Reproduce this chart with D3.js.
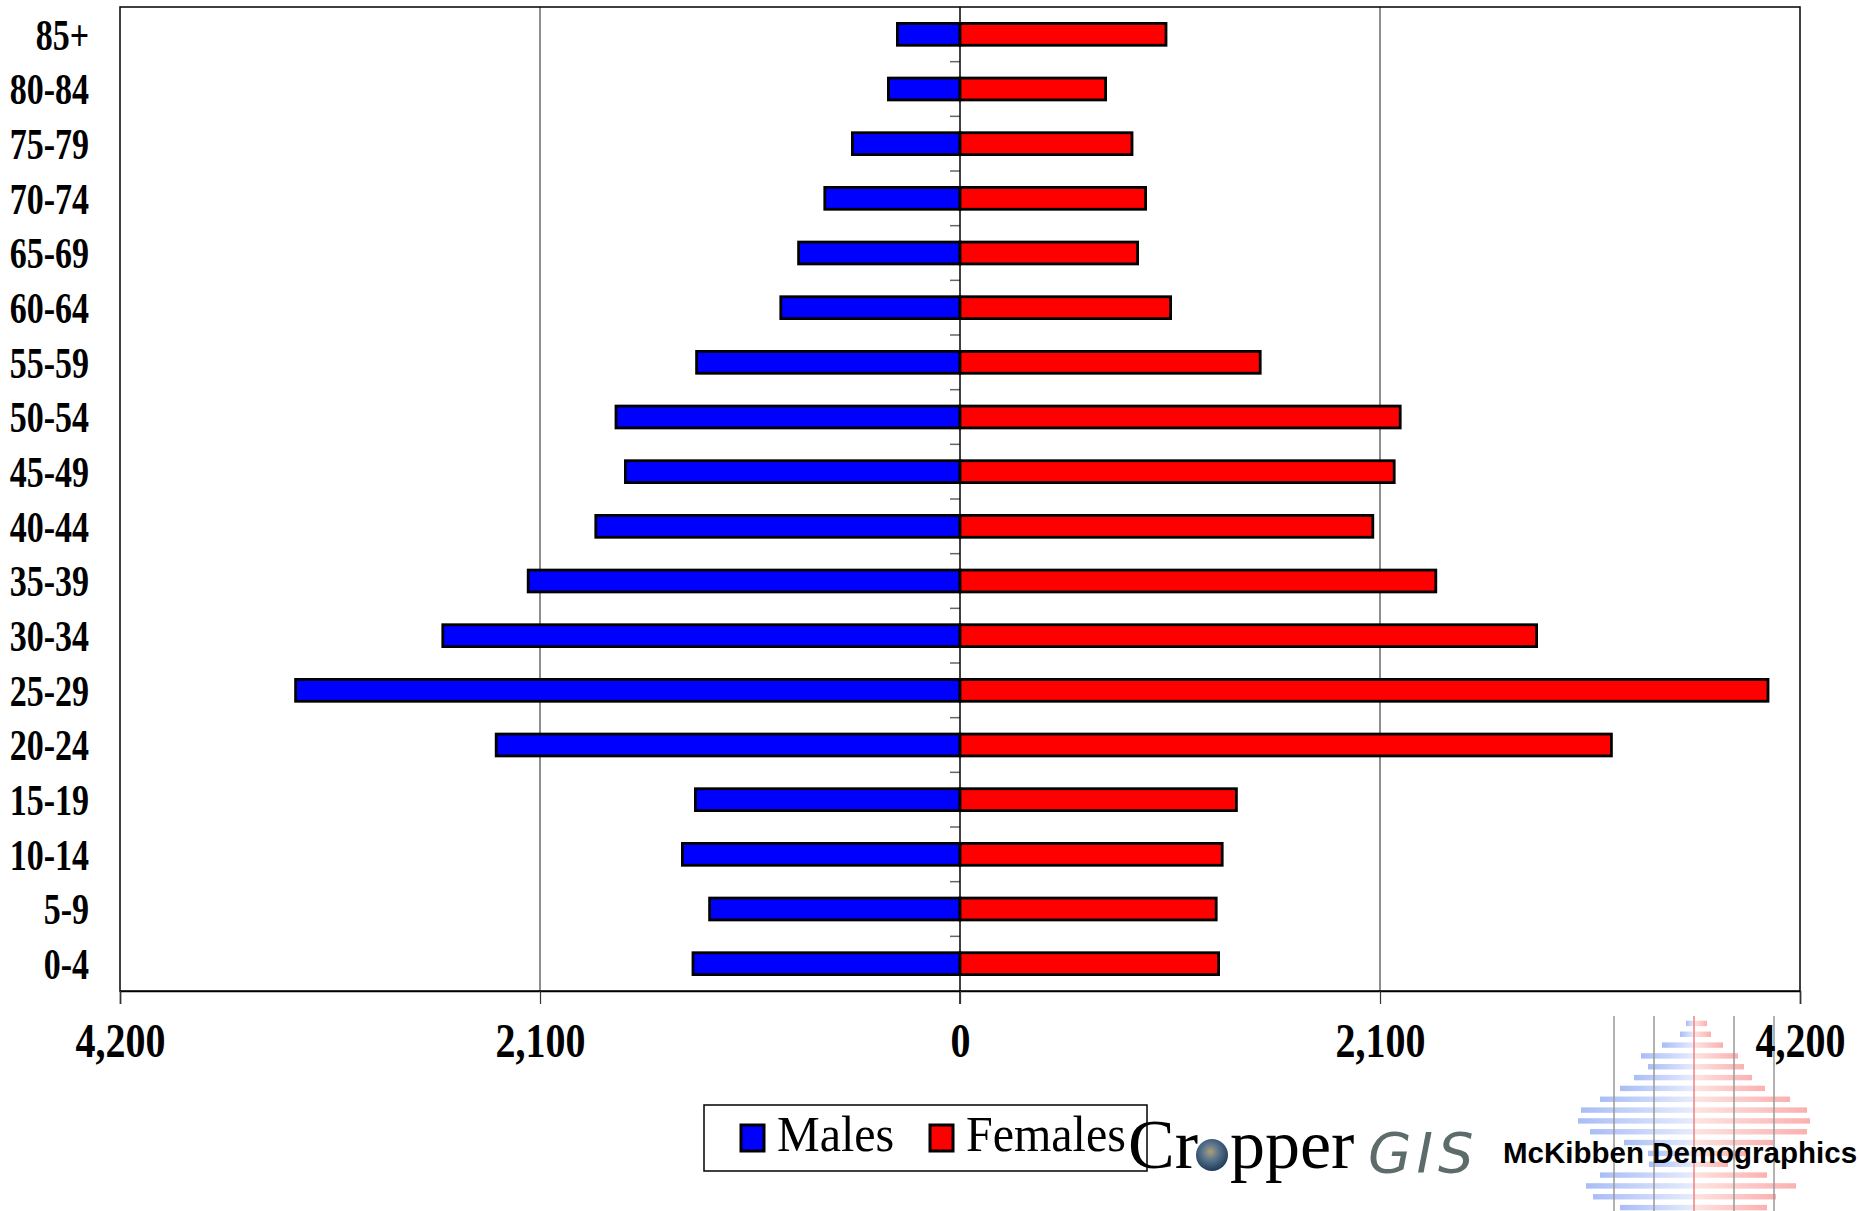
<!DOCTYPE html>
<html>
<head>
<meta charset="utf-8">
<script src="https://cdn.jsdelivr.net/npm/d3@7"></script>
<style>
  body { margin: 0; background: #fff; }
  svg { display: block; }
</style>
</head>
<body>
<svg id="chart"></svg>
<script>
// age groups, top to bottom as drawn
const ageGroups = ["85+", "80-84", "75-79", "70-74", "65-69", "60-64", "55-59", "50-54", "45-49",
                   "40-44", "35-39", "30-34", "25-29", "20-24", "15-19", "10-14", "5-9", "0-4"];
const males   = [313, 358, 538, 676, 807, 896, 1317, 1720, 1673, 1821, 2159, 2586, 3322, 2319, 1323, 1388, 1252, 1335];
const females = [1030, 728, 860, 928, 888, 1053, 1501, 2201, 2171, 2064, 2379, 2883, 4040, 3257, 1382, 1311, 1281, 1293];
const xTicks = [-4200, -2100, 0, 2100, 4200];
const legendItems = ["Males", "Females"];

// little pyramid in the McKibben logo (arbitrary units)
const logoMale   = [8, 14, 32, 53, 46, 60, 74, 94, 113, 116, 104, 70, 46, 45, 94, 108, 101, 74];
const logoFemale = [13, 17, 29, 44, 50, 58, 71, 96, 113, 116, 113, 79, 53, 34, 73, 102, 82, 73];
const logoGrid = [-80, -40, 40, 80];

const W = 1860, H = 1211;
const pLeft = 120, pRight = 1800, pTop = 7, pBottom = 991;

const svg = d3.select("#chart").attr("width", W).attr("height", H);

// the chart's serif labels are tall and narrow: stretch them vertically
function stretch(sel, sy) {
  sel.each(function() {
    const t = d3.select(this);
    const tx = +t.attr("x") || 0, ty = +t.attr("y") || 0;
    t.attr("x", 0).attr("y", 0).attr("transform", `translate(${tx},${ty}) scale(1,${sy})`);
  });
}

const x = d3.scaleLinear().domain([-4200, 4200]).range([pLeft, pRight]);
const y = d3.scaleBand().domain(ageGroups).range([pTop, pBottom]).paddingInner(0.6).paddingOuter(0.3);
const step = y.step();

// gridlines at +-2100
svg.append("g")
  .selectAll("line")
  .data([-2100, 2100])
  .join("line")
    .attr("x1", d => x(d)).attr("x2", d => x(d))
    .attr("y1", pTop).attr("y2", pBottom)
    .attr("stroke", "#444").attr("stroke-width", 1.2);

// plot frame
svg.append("rect")
  .attr("x", pLeft).attr("y", pTop)
  .attr("width", pRight - pLeft).attr("height", pBottom - pTop)
  .attr("fill", "none").attr("stroke", "#000").attr("stroke-width", 1.5);

// x axis
const xAxis = d3.axisBottom(x)
  .tickValues(xTicks)
  .tickSize(13)
  .tickFormat(d => d3.format(",")(Math.abs(d)));

const gx = svg.append("g")
  .attr("transform", `translate(0,${pBottom})`)
  .call(xAxis);
gx.select(".domain").attr("stroke", "#000").attr("stroke-width", 1.5);
gx.selectAll(".tick line").attr("stroke", "#333").attr("stroke-width", 1.2);
gx.selectAll(".tick text")
  .attr("y", 49).attr("dy", "0.35em")
  .attr("font-family", "'Liberation Serif', serif")
  .attr("font-weight", "bold")
  .attr("font-size", 40)
  .attr("fill", "#000")
  .call(stretch, 1.2);

// small ticks on the zero axis between age groups
const bounds = ageGroups.slice(1).map(g => y(g) - (step - y.bandwidth()) / 2);
svg.append("g")
  .selectAll("line")
  .data(bounds)
  .join("line")
    .attr("x1", x(0) - 10).attr("x2", x(0))
    .attr("y1", d => d).attr("y2", d => d)
    .attr("stroke", "#666").attr("stroke-width", 1.5);

// zero line
svg.append("line")
  .attr("x1", x(0)).attr("x2", x(0))
  .attr("y1", pTop).attr("y2", pBottom + 13)
  .attr("stroke", "#000").attr("stroke-width", 1.5);

// bars
svg.append("g")
  .selectAll("rect")
  .data(males)
  .join("rect")
    .attr("x", d => x(-d))
    .attr("y", (d, i) => y(ageGroups[i]))
    .attr("width", d => x(0) - x(-d))
    .attr("height", y.bandwidth())
    .attr("fill", "#0000ff")
    .attr("stroke", "#000").attr("stroke-width", 2.8);

svg.append("g")
  .selectAll("rect")
  .data(females)
  .join("rect")
    .attr("x", x(0))
    .attr("y", (d, i) => y(ageGroups[i]))
    .attr("width", d => x(d) - x(0))
    .attr("height", y.bandwidth())
    .attr("fill", "#ff0000")
    .attr("stroke", "#000").attr("stroke-width", 2.8);

// age labels
svg.append("g")
  .selectAll("text")
  .data(ageGroups)
  .join("text")
    .attr("x", 89)
    .attr("y", d => y(d) + y.bandwidth() / 2)
    .attr("dy", "0.35em")
    .attr("text-anchor", "end")
    .attr("font-family", "'Liberation Serif', serif")
    .attr("font-weight", "bold")
    .attr("font-size", 34)
    .text(d => d)
    .call(stretch, 1.28);

// McKibben logo pyramid (behind the logo text)
const lx = d3.scaleLinear().domain([-120, 120]).range([1574, 1814]);
const ly = d3.scaleBand().domain(d3.range(logoMale.length)).range([1018, 1213]).paddingInner(0.5).paddingOuter(0.25);

const defs = svg.append("defs");
const gm = defs.append("linearGradient").attr("id", "gm");
gm.append("stop").attr("offset", "0%").attr("stop-color", "#a9bdf7");
gm.append("stop").attr("offset", "100%").attr("stop-color", "#e6ecfd");
const gf = defs.append("linearGradient").attr("id", "gf");
gf.append("stop").attr("offset", "0%").attr("stop-color", "#fde4e0");
gf.append("stop").attr("offset", "100%").attr("stop-color", "#fbb0b0");
const globe = defs.append("radialGradient").attr("id", "globe").attr("cx", "45%").attr("cy", "40%").attr("r", "60%");
globe.append("stop").attr("offset", "0%").attr("stop-color", "#b0a070");
globe.append("stop").attr("offset", "40%").attr("stop-color", "#5f7890");
globe.append("stop").attr("offset", "100%").attr("stop-color", "#1f3b5a");

const logo = svg.append("g");
logo.selectAll("rect.m")
  .data(logoMale)
  .join("rect").attr("class", "m")
    .attr("x", d => lx(-d)).attr("y", (d, i) => ly(i))
    .attr("width", d => lx(0) - lx(-d)).attr("height", ly.bandwidth())
    .attr("fill", "url(#gm)");
logo.selectAll("rect.f")
  .data(logoFemale)
  .join("rect").attr("class", "f")
    .attr("x", lx(0)).attr("y", (d, i) => ly(i))
    .attr("width", d => lx(d) - lx(0)).attr("height", ly.bandwidth())
    .attr("fill", "url(#gf)");
logo.selectAll("line.g")
  .data(logoGrid)
  .join("line").attr("class", "g")
    .attr("x1", d => lx(d)).attr("x2", d => lx(d))
    .attr("y1", 1016).attr("y2", H)
    .attr("stroke", "#999").attr("stroke-width", 1.5);
logo.append("line")
  .attr("x1", lx(0)).attr("x2", lx(0))
  .attr("y1", 1016).attr("y2", H)
  .attr("stroke", "#f08080").attr("stroke-width", 1.5);

// x labels sit above the logo
gx.raise();

logo.append("text")
  .attr("x", 1503).attr("y", 1163)
  .attr("font-family", "'Liberation Sans', sans-serif")
  .attr("font-weight", "bold")
  .attr("font-size", 29.5)
  .text("McKibben Demographics");

// legend
const legend = svg.append("g");
legend.append("rect")
  .attr("x", 704).attr("y", 1105).attr("width", 443).attr("height", 66)
  .attr("fill", "#fff").attr("stroke", "#000").attr("stroke-width", 1.5);
const legendX = [741, 930];
const legendColors = ["#0000ff", "#ff0000"];
legend.selectAll("rect.sw")
  .data(legendItems)
  .join("rect").attr("class", "sw")
    .attr("x", (d, i) => legendX[i]).attr("y", 1125)
    .attr("width", 23).attr("height", 26)
    .attr("fill", (d, i) => legendColors[i])
    .attr("stroke", "#000").attr("stroke-width", 3);
legend.selectAll("text")
  .data(legendItems)
  .join("text")
    .attr("x", (d, i) => legendX[i] + 36).attr("y", 1151)
    .attr("font-family", "'Liberation Serif', serif")
    .attr("font-size", 48)
    .text(d => d)
    .call(stretch, 1.06);

// CropperGIS logo
const crop = svg.append("g");
crop.append("text")
  .attr("x", 1128).attr("y", 1168)
  .attr("font-family", "'Liberation Serif', serif")
  .attr("font-size", 70)
  .text("Cr");
crop.append("circle")
  .attr("cx", 1212).attr("cy", 1155).attr("r", 16)
  .attr("fill", "url(#globe)");
crop.append("text")
  .attr("x", 1230).attr("y", 1168)
  .attr("font-family", "'Liberation Serif', serif")
  .attr("font-size", 70)
  .text("pper");
crop.append("text")
  .attr("x", 1368).attr("y", 1172)
  .attr("font-family", "'DejaVu Sans', sans-serif")
  .attr("font-weight", 200)
  .attr("font-style", "italic")
  .attr("font-size", 56)
  .attr("letter-spacing", 5)
  .attr("fill", "#5d6b6b")
  .text("GIS");
</script>
</body>
</html>
